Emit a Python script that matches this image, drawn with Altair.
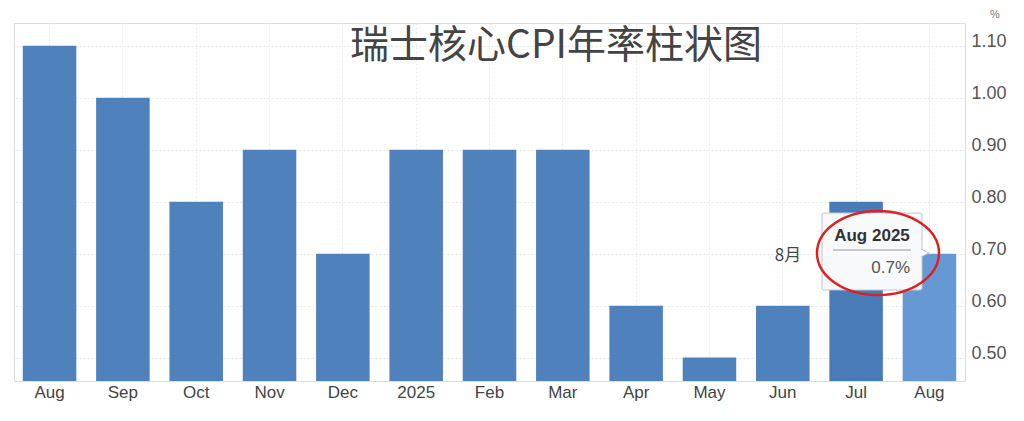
import pandas as pd
import altair as alt

# monthly data, Aug 2024 .. Aug 2025
periods = ["Aug 2024", "Sep 2024", "Oct 2024", "Nov 2024", "Dec 2024", "Jan 2025",
           "Feb 2025", "Mar 2025", "Apr 2025", "May 2025", "Jun 2025", "Jul 2025", "Aug 2025"]
core_cpi_yoy = [1.10, 1.00, 0.80, 0.90, 0.70, 0.90, 0.90, 0.90, 0.60, 0.50, 0.60, 0.80, 0.70]
y_ticks = [0.50, 0.60, 0.70, 0.80, 0.90, 1.00, 1.10]

Y_MIN, Y_MAX = 0.455, 1.144
W, H = 951, 358
LATIN = "Liberation Sans"
CJK = "Noto Sans CJK SC"

df = pd.DataFrame({"period": periods, "value": core_cpi_yoy})
latest = periods[-1]

bar_color = (
    alt.when(f"datum.period == '{latest}'").then(alt.value("#6699d4"))
    .when("datum.period == 'Jul 2025'").then(alt.value("#4a7bb9"))
    .otherwise(alt.value("#4f81bd"))
)

bars = alt.Chart(df).mark_bar().encode(
    x=alt.X("period:N", sort=periods,
            scale=alt.Scale(paddingInner=0.27, paddingOuter=0.12),
            axis=alt.Axis(title=None, labelAngle=0, labelFontSize=17, labelColor="#444",
                          labelFont=LATIN, labelPadding=3, ticks=False,
                          domainColor="#dddddd", grid=True, gridColor="#ececec",
                          gridDash=[2, 2],
                          labelExpr="datum.value == 'Jan 2025' ? '2025' : slice(datum.value, 0, 3)")),
    y=alt.Y("value:Q",
            scale=alt.Scale(domain=[Y_MIN, Y_MAX], nice=False, zero=False),
            axis=alt.Axis(title=None, orient="right", values=y_ticks, format=".2f",
                          labelFontSize=18, labelColor="#555", labelFont=LATIN,
                          labelPadding=6, labelOffset=-4, ticks=False, domain=False,
                          gridColor="#e6e6e6", gridDash=[2, 2])),
    y2=alt.datum(Y_MIN),
    color=bar_color,
)

one = pd.DataFrame({"k": [0]})

title = alt.Chart(one).mark_text(
    text="瑞士核心CPI年率柱状图", font=CJK, fontSize=39, color="#444",
    align="center", baseline="middle"
).encode(x=alt.value(542), y=alt.value(23))

# unit label above the right axis
pct = alt.Chart(one).mark_text(
    text="%", font=LATIN, fontSize=11, color="#777", align="center", baseline="bottom"
).encode(x=alt.value(981), y=alt.value(-3))

month_cn = alt.Chart(one).mark_text(
    text="8月", font=CJK, fontSize=17, color="#444", align="center", baseline="middle"
).encode(x=alt.value(774), y=alt.value(233))

# hover tooltip on the latest bar
tip_box = alt.Chart(one).mark_rect(
    fill="#f8f9fa", stroke="#bcc6d0", strokeWidth=1, cornerRadius=2
).encode(x=alt.value(808), x2=alt.value(908), y=alt.value(190), y2=alt.value(267))

tip_arrow = alt.Chart(one).mark_point(
    shape="M -1 -1 L 1 0 L -1 1", filled=True, fill="#f8f9fa", stroke="#bcc6d0",
    strokeWidth=1, size=60, opacity=1
).encode(x=alt.value(911), y=alt.value(230))

tip_rule = alt.Chart(one).mark_rule(color="#999", strokeWidth=1).encode(
    x=alt.value(819), x2=alt.value(897), y=alt.value(227))

tip_head = alt.Chart(one).mark_text(
    text=latest, font=LATIN, fontSize=17, fontWeight="bold", color="#333",
    align="center", baseline="middle"
).encode(x=alt.value(858), y=alt.value(213))

tip_val = alt.Chart(one).mark_text(
    text=f"{core_cpi_yoy[-1]:.1f}%", font=LATIN, fontSize=17, color="#555",
    align="right", baseline="middle"
).encode(x=alt.value(896), y=alt.value(245))

ring = alt.Chart(one).mark_point(
    shape="M -1 0 A 1 0.69 0 1 0 1 0 A 1 0.69 0 1 0 -1 0 Z",
    filled=False, stroke="#e02020", strokeWidth=2.5, size=122 * 122, opacity=1
).encode(x=alt.value(864), y=alt.value(230))

chart = alt.layer(
    bars, title, pct, month_cn, tip_box, tip_arrow, tip_rule, tip_head, tip_val, ring
).properties(
    width=W, height=H,
    autosize=alt.AutoSizeParams(type="none"),
    padding={"left": 6, "top": 15, "right": 51, "bottom": 28},
).configure_view(
    stroke="#dddddd"
)

chart.save("out.html", embed_options={"renderer": "svg", "actions": False})
